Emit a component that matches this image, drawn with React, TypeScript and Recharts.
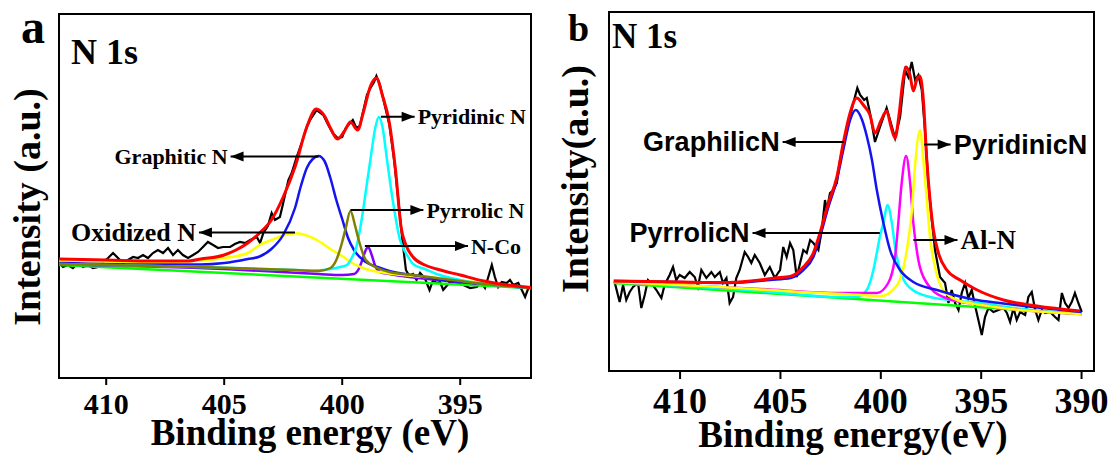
import React from 'react';
import {
  LineChart,
  Line,
  XAxis,
  YAxis,
  ReferenceArea,
  ReferenceLine,
  ReferenceDot,
} from 'recharts';

type Pt = [number, number];

// ---- panel a: N 1s (binding energy eV, intensity a.u.) ----
const aTicks = [410, 405, 400, 395];
const aGreen: Pt[] = [[412, 113], [392, 90]];
const aYellow: Pt[] = [
  [412, 117], [408, 116], [406, 117.5], [405, 120], [404, 125], [403.5, 133], [403, 138],
  [402.5, 142.5], [402, 144.7], [401.5, 142.5], [401, 137], [400.5, 129], [400, 122],
  [399.5, 114], [399, 109], [398, 104.5], [397, 102], [396, 100], [394, 95], [392, 90],
];
const aBlue: Pt[] = [
  [412, 115], [408, 113.5], [406, 113.5], [405, 115], [404, 119], [403.5, 121.5], [403, 129],
  [402.5, 143], [402, 170], [401.75, 192], [401.5, 210], [401.25, 219], [401, 222],
  [400.75, 217], [400.5, 200], [400.25, 178], [400, 159], [399.75, 140], [399.5, 128],
  [399, 116], [398.5, 111], [398, 107], [397, 103], [396, 99], [394, 94], [392, 90],
];
const aCyan: Pt[] = [
  [412, 114], [406, 111], [402, 108], [401, 107.5], [400.5, 109], [400, 111.5], [399.8, 113],
  [399.6, 120], [399.4, 131], [399.25, 148], [399.1, 170], [398.95, 195], [398.8, 219],
  [398.6, 250], [398.45, 261], [398.3, 252], [398.1, 218], [397.84, 175], [397.55, 138],
  [397.25, 123], [397, 114], [396.5, 109], [396, 104], [395, 98], [394, 94], [392, 90],
];
const aOlive: Pt[] = [
  [412, 114], [406, 111], [402, 108], [401, 107], [400.5, 110], [400.25, 118], [400, 136],
  [399.85, 150], [399.65, 167], [399.45, 152], [399.3, 138], [399, 118], [398.5, 110],
  [398, 106], [397, 103], [396, 100], [394, 94], [392, 90],
];
const aPurple: Pt[] = [
  [412, 113.5], [405, 109], [401, 104], [400, 103], [399.5, 104], [399.3, 109], [399.15, 118],
  [399, 128], [398.9, 131], [398.75, 123], [398.6, 112], [398.4, 106], [398, 104],
  [396, 98], [394, 94], [392, 90],
];
const aRed: Pt[] = [
  [412, 119], [410, 118], [408, 117], [406.5, 117], [406, 119], [405, 123], [404.5, 128],
  [404, 135], [403.5, 145], [403, 158], [402.5, 181], [402, 211], [401.5, 251], [401.1, 269],
  [400.75, 262], [400.5, 250], [400.2, 239], [399.9, 247], [399.65, 256], [399.35, 248],
  [399.1, 266], [398.8, 292], [398.55, 300], [398.3, 283], [398, 255], [397.75, 210],
  [397.5, 150], [397.3, 133], [397, 121], [396.5, 113], [396, 109], [395, 103], [394, 97],
  [393, 93], [392, 90.5],
];
const aRaw: Pt[] = [
  [412.0, 115], [411.83, 111], [411.62, 113], [411.41, 110], [411.19, 115], [410.98, 111],
  [410.77, 113], [410.56, 110], [410.35, 111], [410.14, 116], [409.92, 120], [409.71, 125],
  [409.5, 120], [409.29, 115], [409.08, 118], [408.86, 121], [408.65, 120], [408.44, 123],
  [408.23, 120], [408.02, 125], [407.81, 128], [407.59, 125], [407.38, 130], [407.17, 123],
  [406.96, 128], [406.75, 123], [406.53, 120], [406.32, 123], [406.11, 126], [405.9, 131],
  [405.69, 136], [405.47, 133], [405.26, 130], [405.05, 131], [404.75, 131], [404.55, 134],
  [404.33, 136], [404.1, 135], [403.9, 138], [403.62, 141], [403.48, 135], [403.34, 145],
  [403.15, 152], [402.99, 165], [402.85, 158], [402.64, 161], [402.5, 175], [402.28, 198],
  [402.14, 205], [401.93, 221], [401.72, 235], [401.5, 251], [401.36, 258], [401.08, 268],
  [400.8, 263], [400.59, 253], [400.4, 245], [400.2, 240], [400.0, 241], [399.85, 250],
  [399.7, 254], [399.55, 258], [399.4, 250], [399.25, 252], [399.1, 268], [398.95, 283],
  [398.8, 290], [398.65, 296], [398.55, 302], [398.4, 293], [398.2, 273], [398.0, 253],
  [397.8, 218], [397.6, 173], [397.45, 138], [397.3, 108], [397.15, 102], [397.0, 104],
  [396.85, 98], [396.7, 105], [396.5, 100], [396.3, 88], [396.15, 98], [396.0, 95],
  [395.85, 96], [395.72, 88], [395.43, 96], [395.15, 95], [394.87, 93], [394.58, 90],
  [394.3, 91], [394.09, 95], [393.95, 90], [393.81, 101], [393.66, 113], [393.53, 101],
  [393.39, 91], [393.24, 96], [393.03, 95], [392.89, 98], [392.75, 93], [392.54, 95],
  [392.39, 88], [392.25, 81], [392.11, 90],
];
const aLabels = ['Graphitic N', 'Oxidized N', 'Pyridinic N', 'Pyrrolic N', 'N-Co'];
const aArrowFrom: Pt[] = [[401.0, 221.5], [402.0, 145.5], [398.36, 261.3], [399.65, 168], [399.04, 132]];
const aArrowTo: Pt[] = [[404.73, 221.5], [406.07, 145.5], [396.93, 261.3], [396.56, 168], [394.67, 132]];

// ---- panel b: N 1s ----
const bTicks = [410, 405, 400, 395, 390];
const bGreen: Pt[] = [[413.3, 88], [390, 57]];
const bYellow: Pt[] = [
  [413.3, 89], [408, 84], [404, 79], [401, 76], [400, 75], [399.4, 81], [398.9, 101],
  [398.65, 128], [398.45, 161], [398.3, 204], [398.04, 241], [397.88, 211], [397.71, 171],
  [397.55, 134], [397.3, 104], [396.9, 81], [396.2, 71], [395, 66], [393, 61], [390, 57],
];
const bMagenta: Pt[] = [
  [413.3, 89], [406, 82], [402, 78], [400.2, 78], [399.63, 88], [399.29, 114], [399.13, 148],
  [398.96, 188], [398.74, 215], [398.54, 188], [398.38, 148], [398.13, 111], [397.71, 88],
  [396.88, 74], [395.05, 66], [393, 61], [390, 57],
];
const bCyan: Pt[] = [
  [413.3, 89], [406, 80], [402.2, 74], [401.2, 74], [400.7, 81], [400.37, 101], [400.2, 118],
  [400.04, 135], [399.87, 148], [399.67, 166], [399.45, 148], [399.29, 124], [399.04, 101],
  [398.54, 83], [397.55, 74], [395.05, 68], [393, 62], [390, 57],
];
const bBlue: Pt[] = [
  [413.3, 90], [410, 89], [407.6, 88], [405.5, 91], [404.5, 93], [403.86, 101], [403.36, 114],
  [403.03, 134], [402.61, 164], [402.19, 191], [401.87, 221], [401.53, 251], [401.25, 261],
  [400.95, 252], [400.7, 235], [400.45, 212], [400.2, 181], [399.87, 148], [399.54, 121],
  [399.04, 101], [398.38, 89], [397.2, 81], [395.5, 72], [393.9, 67.5], [392.2, 63.5], [390, 59],
];
const bRed: Pt[] = [
  [413.3, 90], [410, 89], [407.6, 88.5], [406, 91], [405.3, 93], [404.52, 94.5], [403.86, 104],
  [403.36, 118], [403.03, 138], [402.61, 168], [402.19, 194], [401.87, 228], [401.53, 258],
  [401.2, 273], [400.87, 266], [400.54, 256], [400.29, 238], [400.0, 250], [399.71, 260],
  [399.5, 245], [399.29, 233], [399.1, 255], [398.9, 290], [398.74, 304], [398.55, 296],
  [398.38, 280], [398.2, 292], [398.06, 295], [397.88, 271], [397.71, 211], [397.55, 171],
  [397.38, 141], [397.13, 118], [396.71, 101], [396.05, 91], [395.3, 82], [393.89, 71],
  [392.23, 65], [390.07, 60],
];
const bRaw: Pt[] = [
  [413.26, 89], [413.01, 69], [412.84, 86], [412.68, 71], [412.51, 79], [412.34, 84],
  [412.09, 88], [411.93, 63], [411.76, 76], [411.6, 91], [411.43, 88], [411.18, 81],
  [410.93, 73], [410.77, 86], [410.52, 96], [410.35, 104], [410.19, 91], [410.02, 96],
  [409.77, 93], [409.52, 99], [409.27, 94], [409.11, 84], [408.94, 101], [408.69, 93],
  [408.44, 99], [408.27, 94], [408.02, 99], [407.86, 88], [407.69, 93], [407.53, 68],
  [407.36, 74], [407.2, 93], [407.03, 101], [406.78, 119], [406.61, 114], [406.45, 108],
  [406.28, 116], [406.03, 108], [405.78, 96], [405.53, 104], [405.28, 93], [405.12, 98],
  [405.02, 101], [404.86, 124], [404.69, 114], [404.52, 128], [404.36, 121], [404.19, 94],
  [404.02, 108], [403.86, 121], [403.69, 118], [403.52, 131], [403.36, 128], [403.11, 121],
  [402.94, 141], [402.78, 171], [402.69, 161], [402.53, 178], [402.36, 181], [402.19, 188],
  [402.03, 211], [401.86, 224], [401.61, 248], [401.37, 268], [401.17, 283], [401.03, 276],
  [400.83, 271], [400.7, 273], [400.54, 258], [400.29, 229], [400.04, 244], [399.71, 263],
  [399.54, 251], [399.29, 233], [399.04, 254], [398.79, 301], [398.63, 294], [398.46, 309],
  [398.29, 291], [398.13, 296], [397.96, 281], [397.79, 238], [397.63, 188], [397.46, 151],
  [397.3, 121], [397.05, 94], [396.8, 88], [396.63, 68], [396.47, 81], [396.3, 68],
  [396.13, 61], [395.97, 78], [395.8, 88], [395.64, 73], [395.47, 81], [395.3, 65],
  [395.14, 51], [394.97, 36], [394.81, 54], [394.64, 63], [394.39, 59], [394.14, 61],
  [393.89, 63], [393.72, 58], [393.56, 49], [393.39, 63], [393.23, 51], [393.06, 59],
  [392.81, 56], [392.65, 74], [392.48, 79], [392.31, 61], [392.15, 51], [391.98, 61],
  [391.81, 58], [391.57, 59], [391.32, 54], [391.15, 51], [390.98, 78], [390.82, 68],
  [390.65, 63], [390.49, 69], [390.33, 78], [390.16, 68], [389.99, 59],
];
const bLabels = ['GraphilicN', 'PyrrolicN', 'PyridinicN', 'Al-N'];
const bArrowFrom: Pt[] = [[401.83, 229], [400.05, 138], [397.84, 226.5], [398.38, 131]];
const bArrowTo: Pt[] = [[404.89, 229], [406.39, 138], [396.52, 226.5], [396.18, 131]];

const serif = '"Liberation Serif", "Times New Roman", serif';
const sans = '"Liberation Sans", Arial, sans-serif';

const toRows = (pts: Pt[]) => pts.map(([e, i]) => ({ e, i }));

const head = (left: boolean) => (p: any) => (
  <path
    d={left ? `M${p.cx},${p.cy} l13,-5 l0,10 z` : `M${p.cx},${p.cy} l-13,-5 l0,10 z`}
    fill="#000"
  />
);

const note = (text: string, left: boolean, font: string, size: number) => (p: any) => (
  <text
    x={left ? p.cx - 3 : p.cx + 3}
    y={p.cy}
    textAnchor={left ? 'end' : 'start'}
    dominantBaseline="central"
    fontFamily={font}
    fontWeight="bold"
    fontSize={size}
    fill="#000"
  >
    {text}
  </text>
);

interface Series { pts: Pt[]; color: string; w: number; kind: 'linear' | 'monotone' }

function Panel(props: {
  left: number;
  width: number;
  margin: { top: number; left: number; right: number; bottom: number };
  domain: [number, number];
  yMax: number;
  ticks: number[];
  tickSize: number;
  tickMargin: number;
  tickFont: number;
  series: Series[];
  labels: string[];
  from: Pt[];
  to: Pt[];
  labelFont: (i: number) => [string, number];
}) {
  const { domain, yMax } = props;
  return (
    <div style={{ position: 'absolute', left: props.left, top: 0 }}>
      <LineChart width={props.width} height={455} margin={props.margin}>
        <XAxis
          type="number"
          dataKey="e"
          domain={domain}
          reversed
          allowDataOverflow
          ticks={props.ticks}
          interval={0}
          axisLine={false}
          tickLine={{ stroke: '#000', strokeWidth: 2 }}
          tickSize={props.tickSize}
          tickMargin={props.tickMargin}
          height={40}
          tick={{ fill: '#000', fontSize: props.tickFont, fontFamily: serif, fontWeight: 'bold' }}
        />
        <YAxis type="number" dataKey="i" domain={[0, yMax]} hide allowDataOverflow />
        {props.series.map((s, k) => (
          <Line
            key={k}
            data={toRows(s.pts)}
            dataKey="i"
            type={s.kind}
            stroke={s.color}
            strokeWidth={s.w}
            dot={false}
            activeDot={false}
            isAnimationActive={false}
          />
        ))}
        <ReferenceArea
          x1={domain[0]}
          x2={domain[1]}
          y1={0}
          y2={yMax}
          fill="none"
          stroke="#000"
          strokeWidth={2}
        />
        {props.labels.map((lab, k) => {
          const f = props.from[k];
          const t = props.to[k];
          const left = t[0] > f[0];
          const [font, size] = props.labelFont(k);
          return (
            <React.Fragment key={lab}>
              <ReferenceLine
                segment={[{ x: f[0], y: f[1] }, { x: t[0], y: t[1] }]}
                stroke="#000"
                strokeWidth={2}
              />
              <ReferenceDot x={t[0]} y={t[1]} r={1} shape={head(left)} />
              <ReferenceDot x={t[0]} y={t[1]} r={1} shape={note(lab, left, font, size)} />
            </React.Fragment>
          );
        })}
      </LineChart>
    </div>
  );
}

export default function App() {
  const bold = { fontFamily: serif, fontWeight: 'bold' as const, fill: '#000' };
  return (
    <div style={{ position: 'absolute', left: 0, top: 0, width: 1117, height: 455, background: '#fff' }}>
      <Panel
        left={0}
        width={560}
        margin={{ top: 14, left: 59, right: 29, bottom: 37 }}
        domain={[392, 412]}
        yMax={364}
        ticks={aTicks}
        tickSize={7}
        tickMargin={8}
        tickFont={30}
        series={[
          { pts: aRaw, color: '#000', w: 2.2, kind: 'linear' },
          { pts: aGreen, color: '#00ff00', w: 2.5, kind: 'linear' },
          { pts: aPurple, color: '#8000ff', w: 2.5, kind: 'monotone' },
          { pts: aYellow, color: '#ffff00', w: 2.5, kind: 'monotone' },
          { pts: aBlue, color: '#1414f0', w: 2.5, kind: 'monotone' },
          { pts: aCyan, color: '#00ffff', w: 2.5, kind: 'monotone' },
          { pts: aOlive, color: '#808000', w: 2.5, kind: 'monotone' },
          { pts: aRed, color: '#ff0000', w: 3, kind: 'monotone' },
        ]}
        labels={aLabels}
        from={aArrowFrom}
        to={aArrowTo}
        labelFont={(i) => [serif, i === 1 ? 26 : 22]}
      />
      <Panel
        left={560}
        width={557}
        margin={{ top: 12, left: 49, right: 23, bottom: 44 }}
        domain={[389.38, 413.54]}
        yMax={359}
        ticks={bTicks}
        tickSize={8}
        tickMargin={8}
        tickFont={36}
        series={[
          { pts: bRaw, color: '#000', w: 2.2, kind: 'linear' },
          { pts: bGreen, color: '#00ff00', w: 2.5, kind: 'linear' },
          { pts: bCyan, color: '#00ffff', w: 2.5, kind: 'monotone' },
          { pts: bMagenta, color: '#ff00ff', w: 2.5, kind: 'monotone' },
          { pts: bYellow, color: '#ffff00', w: 2.5, kind: 'monotone' },
          { pts: bBlue, color: '#1414f0', w: 2.5, kind: 'monotone' },
          { pts: bRed, color: '#ff0000', w: 3, kind: 'monotone' },
        ]}
        labels={bLabels}
        from={bArrowFrom}
        to={bArrowTo}
        labelFont={(i) => (i === 3 ? [serif, 27] : [sans, 27])}
      />
      <svg
        width={1117}
        height={455}
        style={{ position: 'absolute', left: 0, top: 0, pointerEvents: 'none' }}
      >
        <text x={21} y={43} fontSize={48} {...bold}>a</text>
        <text x={71} y={64} fontSize={36} {...bold}>N 1s</text>
        <text x={568} y={41} fontSize={38} {...bold}>b</text>
        <text x={612} y={48} fontSize={35} {...bold}>N 1s</text>
        <text x={310} y={445} fontSize={37} textAnchor="middle" {...bold}>Binding energy (eV)</text>
        <text x={853} y={447} fontSize={37} textAnchor="middle" {...bold}>Binding energy(eV)</text>
        <text x={40} y={207} fontSize={38} textAnchor="middle" transform="rotate(-90 40 207)" {...bold}>
          Intensity (a.u.)
        </text>
        <text x={588} y={179} fontSize={38} textAnchor="middle" transform="rotate(-90 588 179)" {...bold}>
          Intensity(a.u.)
        </text>
      </svg>
    </div>
  );
}
